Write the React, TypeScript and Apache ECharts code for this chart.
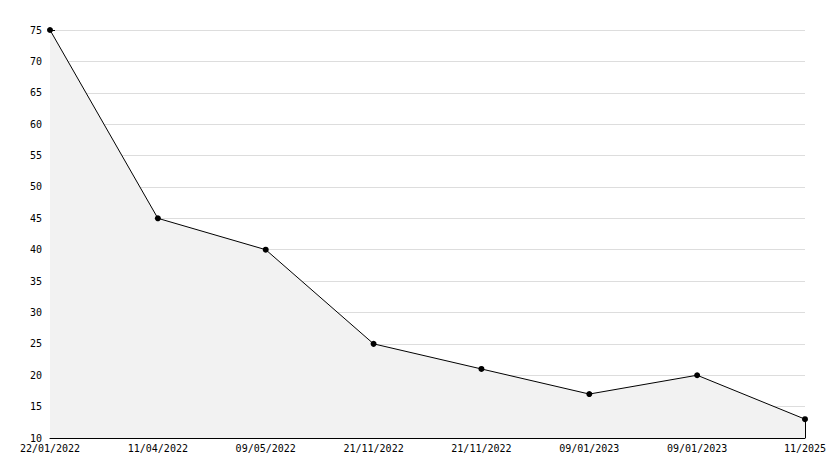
import React, { useEffect, useRef } from "react";
import * as echarts from "echarts";

const categories = [
  "22/01/2022",
  "11/04/2022",
  "09/05/2022",
  "21/11/2022",
  "21/11/2022",
  "09/01/2023",
  "09/01/2023",
  "11/2025",
];
const values = [75, 45, 40, 25, 21, 17, 20, 13];
const yMin = 10;
const yMax = 75;
const yStep = 5;

export default function App() {
  const ref = useRef<HTMLDivElement>(null);
  useEffect(() => {
    if (!ref.current) return;
    const chart = echarts.init(ref.current, null, { renderer: "svg" });
    const font = "DejaVu Sans Mono";
    const lastIdx = categories.length - 1;
    chart.setOption({
      animation: false,
      backgroundColor: "#ffffff",
      grid: { left: 50, right: 29, top: 30, bottom: 30, containLabel: false },
      xAxis: {
        type: "category",
        data: categories.map((c, i) => i),
        boundaryGap: false,
        axisLine: { show: true, lineStyle: { color: "#000", width: 1 } },
        axisTick: { show: true, inside: true, length: 5, alignWithLabel: true, lineStyle: { color: "#000" } },
        axisLabel: {
          color: "#000",
          fontFamily: font,
          fontSize: 10,
          margin: 5,
          interval: 0,
          formatter: (v: string) => categories[Number(v)],
        },
        splitLine: { show: false },
      },
      yAxis: {
        type: "value",
        min: yMin,
        max: yMax,
        interval: yStep,
        axisLine: { show: true, lineStyle: { color: "#000", width: 1 } },
        axisTick: { show: true, inside: true, length: 5, lineStyle: { color: "#000" } },
        minorTick: { show: true, splitNumber: 5, length: 3, lineStyle: { color: "#000" } },
        axisLabel: { color: "#000", fontFamily: font, fontSize: 10, margin: 8 },
        splitLine: { show: true, lineStyle: { color: "#dddddd", width: 1 } },
      },
      series: [
        {
          type: "line",
          data: values,
          symbol: "circle",
          symbolSize: 6,
          itemStyle: { color: "#000" },
          lineStyle: { color: "#000", width: 1 },
          areaStyle: { color: "#f2f2f2", opacity: 1, origin: "start" },
          markLine: {
            silent: true,
            symbol: "none",
            label: { show: false },
            lineStyle: { color: "#000", width: 1, type: "solid" },
            data: [
              [
                { coord: [lastIdx, yMin] },
                { coord: [lastIdx, values[lastIdx]] },
              ],
            ],
          },
        },
      ],
    });
    return () => chart.dispose();
  }, []);
  return <div ref={ref} style={{ width: 834, height: 468, position: "absolute", left: 0, top: 0 }} />;
}
